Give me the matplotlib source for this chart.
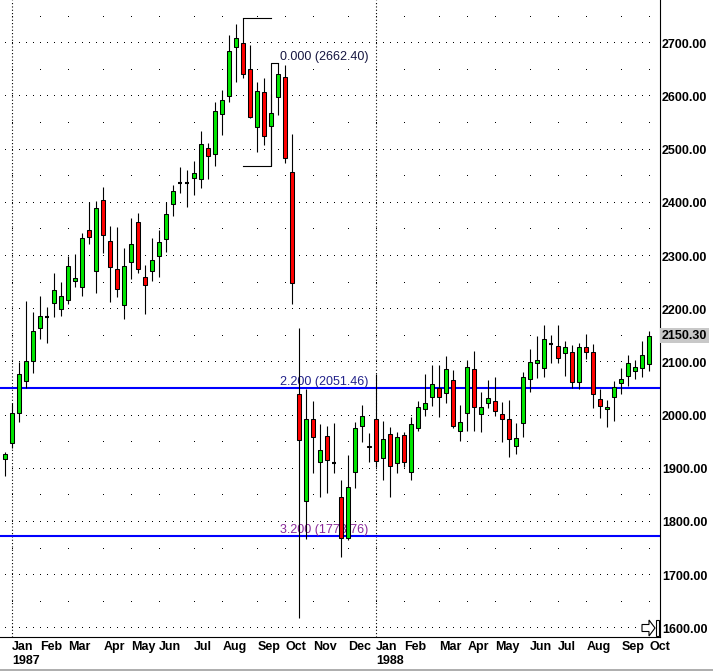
import numpy as np
import matplotlib
matplotlib.use("Agg")
import matplotlib.pyplot as plt
from matplotlib.lines import Line2D
from matplotlib.patches import Rectangle, Polygon

plt.rcParams['font.family'] = ['Liberation Sans', 'DejaVu Sans']

# Velas semanales (apertura, maximo, minimo, cierre)
aperturas = [1917.8, 1947.8, 2004.2, 2064.4, 2102.0, 2165.2, 2184.4, 2211.1, 2199.8, 2216.7,
             2253.6, 2242.3, 2348.9, 2272.4, 2404.8, 2328.2, 2275.0, 2207.3, 2288.2, 2363.4,
             2260.0, 2272.4, 2299.5, 2331.4, 2397.3, 2436.7, 2437.9, 2446.1, 2444.3, 2502.6,
             2491.3, 2566.5, 2601.5, 2692.5, 2700.0, 2651.1, 2542.0, 2607.9, 2545.0, 2599.6,
             2636.1, 2457.4, 2040.0, 1839.9, 1993.5, 1912.1, 1961.6, 1911.3, 1847.4, 1769.2,
             1894.4, 1980.4, 1943.3, 1993.5, 1919.6, 1964.8, 1911.3, 1962.9, 1893.3, 1977.2,
             2011.8, 2034.3, 2051.3, 2041.9, 2066.9, 1971.5, 2005.4, 2087.0, 2002.3, 2023.0,
             2027.4, 2002.3, 1993.5, 1943.3, 1986.6, 2068.2, 2098.3, 2088.9, 2135.1, 2131.4,
             2117.1, 2120.1, 2063.7, 2128.4, 2120.1, 2030.6, 2011.8, 2034.3, 2060.7, 2074.4,
             2083.8, 2090.0, 2096.4]
maximos = [1932.0, 2023.0, 2100.7, 2215.4, 2194.2, 2225.4, 2204.7, 2268.6, 2251.7, 2300.0,
           2303.8, 2342.7, 2402.2, 2404.0, 2429.2, 2356.4, 2354.0, 2315.1, 2371.5, 2380.9,
           2283.1, 2333.9, 2348.9, 2401.6, 2433.6, 2467.4, 2461.8, 2478.4, 2535.0, 2511.9,
           2590.2, 2612.2, 2715.6, 2736.3, 2746.65, 2696.8, 2627.2, 2634.2, 2604.1, 2662.4,
           2659.2, 2529.4, 2164.1, 2049.4, 2027.4, 1984.1, 1980.4, 1985.4, 1878.8, 1925.8,
           1988.4, 2019.9, 1966.7, 2078.1, 1990.3, 1979.1, 1968.5, 1968.5, 1997.9, 2028.0,
           2078.1, 2095.1, 2095.1, 2112.0, 2085.7, 2019.9, 2104.5, 2121.4, 2044.9, 2066.9,
           2071.9, 2026.1, 2029.3, 1985.4, 2082.5, 2124.6, 2149.6, 2170.3, 2151.5, 2170.3,
           2140.8, 2132.7, 2135.9, 2153.4, 2134.6, 2049.4, 2029.3, 2065.6, 2088.9, 2113.9,
           2104.5, 2140.8, 2159.6]
minimos = [1887.0, 1938.4, 1988.4, 2051.3, 2080.6, 2143.4, 2135.9, 2185.9, 2187.2, 2209.8,
           2241.2, 2225.4, 2322.6, 2231.0, 2306.3, 2214.1, 2223.5, 2182.1, 2257.4, 2268.6,
           2190.4, 2253.0, 2261.1, 2308.1, 2375.8, 2418.0, 2392.7, 2415.3, 2428.4, 2445.4,
           2469.8, 2527.6, 2590.2, 2627.8, 2634.2, 2559.0, 2496.2, 2508.8, 2468.95, 2565.2,
           2474.4, 2209.2, 1618.8, 1767.9, 1892.5, 1847.4, 1854.9, 1891.4, 1734.6, 1766.0,
           1863.2, 1950.9, 1913.0, 1903.9, 1878.8, 1847.4, 1891.4, 1902.7, 1878.8, 1971.0,
           1999.7, 2017.9, 1997.9, 2024.2, 1976.0, 1952.7, 1971.5, 1971.5, 1969.7, 2013.6,
           1999.2, 1950.9, 1922.6, 1927.7, 1960.3, 2044.9, 2070.1, 2073.1, 2099.4, 2099.4,
           2074.4, 2051.3, 2049.4, 2105.8, 2014.7, 1995.9, 1979.1, 1990.3, 2040.5, 2055.6,
           2068.2, 2071.9, 2084.4]
cierres = [1927.1, 2005.4, 2078.1, 2102.0, 2158.4, 2187.2, 2184.4, 2236.1, 2224.8, 2281.2,
           2258.1, 2333.3, 2336.3, 2389.7, 2340.0, 2278.8, 2237.4, 2281.2, 2322.0, 2275.0,
           2245.0, 2292.0, 2325.8, 2378.4, 2421.7, 2436.7, 2437.9, 2455.6, 2510.0, 2487.5,
           2572.7, 2593.4, 2685.5, 2709.4, 2642.3, 2562.0, 2609.7, 2526.3, 2569.5, 2642.3,
           2483.8, 2248.7, 1954.0, 1993.5, 1960.3, 1934.7, 1915.9, 1911.3, 1769.2, 1866.2,
           1976.0, 1999.7, 1940.3, 1914.6, 1955.4, 1905.2, 1959.1, 1912.1, 1983.5, 2015.5,
           2023.0, 2058.8, 2035.5, 2087.0, 1980.9, 1987.3, 2090.7, 2015.5, 2015.5, 2032.4,
           2009.1, 1992.9, 1955.4, 1957.3, 2071.9, 2101.3, 2103.9, 2143.4, 2135.1, 2107.7,
           2129.5, 2062.6, 2128.4, 2120.1, 2040.0, 2017.9, 2016.7, 2054.3, 2068.2, 2098.3,
           2090.7, 2113.9, 2150.3]

# Meses (indice de la primera semana) y años
meses = ['Jan', 'Feb', 'Mar', 'Apr', 'May', 'Jun', 'Jul', 'Aug', 'Sep', 'Oct', 'Nov', 'Dec',
         'Jan', 'Feb', 'Mar', 'Apr', 'May', 'Jun', 'Jul', 'Aug', 'Sep', 'Oct']
semana_mes = [1, 5, 9, 14, 18, 22, 27, 31, 36, 40, 44, 49, 53, 57, 62, 66, 70, 75, 79, 83, 88, 92]
anios = ['1987', '1988']
semana_anio = [1, 53]

# Extension de Fibonacci
fib_alto = 2746.65
fib_bajo = 2468.95
fib_inicio = 2662.40
fib_ratios = [0.0, 2.2, 3.2]
fib_colores = ['#161640', '#22228a', '#8a2a9a']

niveles = list(range(1600, 2800, 100))

W, H = 713, 672
fig = plt.figure(figsize=(W / 100, H / 100), dpi=100)
ax = fig.add_axes([0, 1 - 637 / H, 660 / W, 637 / H])

n = len(cierres)
x = np.arange(n)
ax.set_xlim(-0.757, 93.53)
ax.set_ylim(1583.6, 2781.4)

# Rejilla de puntos
for nv in niveles:
    ax.plot(x, [nv] * n, ',', color='black', zorder=0)
for nv in range(1650, 2800, 100):
    ax.plot(semana_mes, [nv] * len(semana_mes), ',', color='black', zorder=0)
for s in semana_anio:
    ax.axvline(s, color='black', lw=0.8, linestyle=(0, (1, 2)), zorder=0)

# Lineas de Fibonacci
rango = fib_alto - fib_bajo
for r, col in zip(fib_ratios, fib_colores):
    nivel = fib_inicio - r * rango
    if r > 0:
        ax.axhline(nivel, color='#0000ff', lw=1.5, zorder=1)
    ax.annotate(f"{r:.3f} ({nivel:.2f})", (39.2, nivel), xytext=(0, 2.2),
                textcoords='offset points', color=col, fontsize=9, va='baseline', ha='left', zorder=1)

# Corchete de la herramienta
i_alto = 34
i_fin = 38
ax.plot([i_alto, i_fin], [fib_alto, fib_alto], color='black', lw=0.8, zorder=2)
ax.plot([i_alto, i_fin, i_fin, i_fin + 1], [fib_bajo, fib_bajo, fib_inicio, fib_inicio],
        color='black', lw=0.8, zorder=2)

# Velas
ap = np.array(aperturas)
ci = np.array(cierres)
ax.vlines(x, minimos, maximos, color='black', lw=0.8, zorder=3)
doji = np.abs(ci - ap) < 0.5
colores = np.where(ci > ap, '#00e600', '#ff0000')
cuerpo = ~doji
ax.bar(x[cuerpo], (np.maximum(ap, ci) - np.minimum(ap, ci))[cuerpo],
       bottom=np.minimum(ap, ci)[cuerpo], width=0.62, color=colores[cuerpo],
       edgecolor='black', linewidth=0.75, zorder=4)
ax.hlines(ci[doji], x[doji] - 0.31, x[doji] + 0.31, color='black', lw=1.5, zorder=4)

# Ejes
for lado in ['left', 'top']:
    ax.spines[lado].set_visible(False)
for lado in ['right', 'bottom']:
    ax.spines[lado].set_linewidth(0.8)
ax.yaxis.tick_right()
ax.set_yticks(niveles)
ax.set_yticklabels([f"{v:.2f}" for v in niveles], fontweight='bold', fontsize=9)
ax.tick_params(axis='y', length=0, pad=1.5)
ax.set_xticks([])

trans = ax.get_xaxis_transform()
for s, m in zip(semana_mes, meses):
    ax.text(s, -0.006, m, transform=trans, ha='left', va='top', fontsize=9,
            fontweight='bold', clip_on=False)
for s, a in zip(semana_anio, anios):
    ax.text(s, -0.029, a, transform=trans, ha='left', va='top', fontsize=9,
            fontweight='bold', clip_on=False)

# Ultimo precio
ytrans = ax.get_yaxis_transform()
ax.text(1.0 + 2 / 660, cierres[-1], f"{cierres[-1]:.2f}", transform=ytrans, ha='left',
        va='center', fontsize=9, fontweight='bold', clip_on=False,
        bbox=dict(facecolor='#c8c8c8', edgecolor='none', pad=1.2))

# Icono de flecha abajo a la derecha (coordenadas en pixeles desde arriba)
def px(xp, yp):
    return (xp / W, 1 - yp / H)

flecha = [px(642, 624.5), px(649, 624.5), px(649, 620), px(655, 628),
          px(649, 636), px(649, 631.5), px(642, 631.5)]
fig.patches.append(Polygon(flecha, closed=True, transform=fig.transFigure,
                           facecolor='white', edgecolor='black', lw=0.8))
fig.patches.append(Rectangle(px(655.5, 636), 3 / W, 16 / H,
                             transform=fig.transFigure, facecolor='white',
                             edgecolor='black', lw=0.8))
fig.lines.append(Line2D([0, 1], [1 - 669.5 / H] * 2, transform=fig.transFigure,
                        color='#a0a0a0', lw=1.2))

fig.savefig('out.png', dpi=100)
